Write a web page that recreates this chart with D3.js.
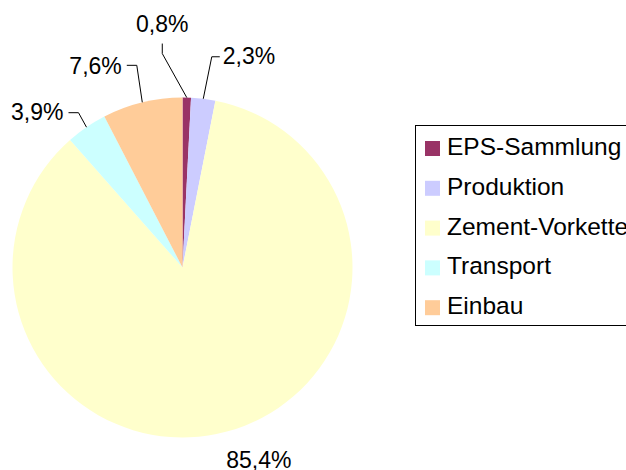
<!DOCTYPE html>
<html>
<head>
<meta charset="utf-8">
<script src="https://cdn.jsdelivr.net/npm/d3@7"></script>
<style>
  body { margin: 0; background: #fff; }
  text { font-family: "Liberation Sans", Arial, sans-serif; fill: #000; }
</style>
</head>
<body>
<div id="chart"></div>
<script>
// Data
const categories = ["EPS-Sammlung", "Produktion", "Zement-Vorkette", "Transport", "Einbau"];
const shares = [0.8, 2.3, 85.4, 3.9, 7.6];
const colors = ["#993366", "#CCCCFF", "#FFFFCC", "#CCFFFF", "#FFCC99"];

const width = 626, height = 470;
const cx = 182.5, cy = 267.5, radius = 170;

// Excel-style label placement (relative to the slice's outer edge point)
const labelLayout = [
    { elbow: [-24.5, -44], end: [-24.5, -54], text: [0, -12], anchor: "middle" },
    { elbow: [8.5, -42], end: [16.5, -42], text: [3, 7], anchor: "start" },
    { elbow: null, end: null, text: [32, 36], anchor: "middle" },
    { elbow: [-8, -14.5], end: [-18, -14.5], text: [-5, 7.5], anchor: "end" },
    { elbow: [-5.5, -37], end: [-15.5, -37], text: [-5, 8.5], anchor: "end" }
];

const fmt = d3.formatLocale({ decimal: ",", thousands: ".", grouping: [3], currency: ["", " €"] }).format(".1f");

const svg = d3.select("#chart")
    .append("svg")
    .attr("width", width)
    .attr("height", height);

const data = categories.map((c, i) => ({ name: c, value: shares[i], color: colors[i], layout: labelLayout[i] }));

const pie = d3.pie()
    .sort(null)
    .value(d => d.value)
    .startAngle(0)
    .endAngle(2 * Math.PI);

const arc = d3.arc().innerRadius(0).outerRadius(radius);

const arcs = pie(data);

const g = svg.append("g").attr("transform", `translate(${cx},${cy})`);

// slices
g.selectAll("path.slice")
    .data(arcs)
    .enter()
    .append("path")
    .attr("class", "slice")
    .attr("d", arc)
    .attr("fill", d => d.data.color);

// labels + leader lines
arcs.forEach(d => {
    const mid = (d.startAngle + d.endAngle) / 2;
    const ex = radius * Math.sin(mid), ey = -radius * Math.cos(mid);
    const L = d.data.layout;
    let tx = ex, ty = ey;
    if (L.elbow) {
        const p1 = [ex + L.elbow[0], ey + L.elbow[1]];
        const p2 = [ex + L.end[0], ey + L.end[1]];
        g.append("polyline")
            .attr("points", [[ex, ey], p1, p2].map(p => p.join(",")).join(" "))
            .attr("fill", "none")
            .attr("stroke", "#000")
            .attr("stroke-width", 1);
        tx = p2[0]; ty = p2[1];
    }
    g.append("text")
        .attr("x", tx + L.text[0])
        .attr("y", ty + L.text[1])
        .attr("text-anchor", L.anchor)
        .style("font-size", "23px")
        .text(fmt(d.data.value) + "%");
});

// legend
const legend = svg.append("g").attr("transform", "translate(415.5,125.5)");
legend.append("rect")
    .attr("width", 260)
    .attr("height", 200)
    .attr("fill", "#fff")
    .attr("stroke", "#000")
    .attr("stroke-width", 1);

const rows = legend.selectAll("g.row")
    .data(data)
    .enter()
    .append("g")
    .attr("class", "row")
    .attr("transform", (d, i) => `translate(0,${29.5 + i * 39.8})`);

rows.append("rect")
    .attr("x", 9.5)
    .attr("y", -14)
    .attr("width", 15)
    .attr("height", 15)
    .attr("fill", d => d.color);

rows.append("text")
    .attr("x", 31.5)
    .attr("y", 0)
    .style("font-size", "24.5px")
    .text(d => d.name);
</script>
</body>
</html>
